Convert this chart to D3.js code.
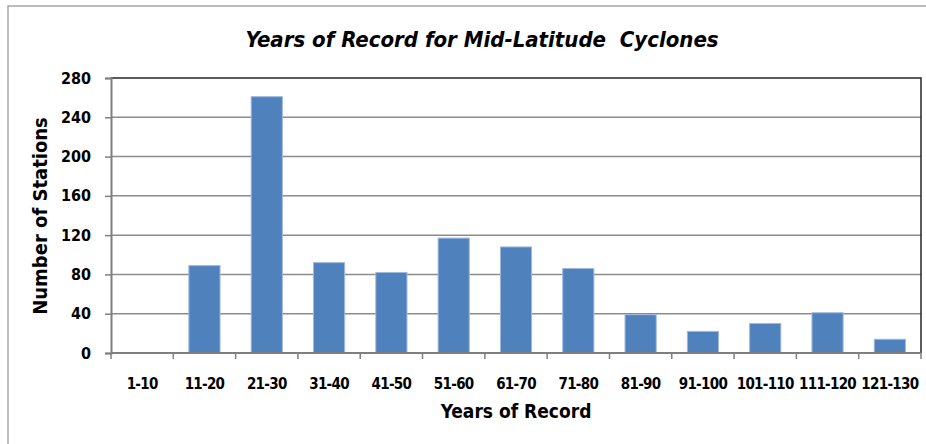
<!DOCTYPE html>
<html>
<head>
<meta charset="utf-8">
<script src="https://cdn.jsdelivr.net/npm/d3@7/dist/d3.min.js"></script>
<style>
  html, body { margin: 0; padding: 0; background: #fff; }
  svg { display: block; }
  text { font-family: "DejaVu Sans Condensed", "Noto Sans", sans-serif; font-weight: bold; fill: #000; }
</style>
</head>
<body>
<svg id="chart" width="926" height="444"></svg>
<script>
// Station counts by length of record
const categories = ["1-10", "11-20", "21-30", "31-40", "41-50", "51-60", "61-70",
                    "71-80", "81-90", "91-100", "101-110", "111-120", "121-130"];
const stations = [0, 89, 261, 92, 82, 117, 108, 86, 39, 22, 30, 41, 14];
const yTicks = [0, 40, 80, 120, 160, 200, 240, 280];

const svg = d3.select("#chart");
const margin = { left: 111, right: 5, top: 78, bottom: 91 };
const W = 926, H = 444;
const x0 = margin.left, x1 = W - margin.right, y0 = H - margin.bottom, y1 = margin.top;

// outer chart frame
svg.append("rect").attr("x", 8).attr("y", 6).attr("width", 940).attr("height", 460)
  .attr("fill", "#fff").attr("stroke", "#a6a6a6").attr("stroke-width", 1.5);

const x = d3.scaleBand().domain(categories).range([x0, x1]).paddingInner(0.5).paddingOuter(0.25);
const y = d3.scaleLinear().domain([0, 280]).range([y0, y1]);

// horizontal gridlines
svg.append("g").selectAll("line").data(yTicks.filter(d => d > 0 && d < 280)).join("line")
  .attr("x1", x0).attr("x2", x1).attr("y1", d => y(d)).attr("y2", d => y(d))
  .attr("stroke", "#8c8c8c").attr("stroke-width", 1.5);

// plot frame: top and right edges
svg.append("path")
  .attr("d", `M${x0},${y1}H${x1}V${y0}`)
  .attr("fill", "none").attr("stroke", "#262626").attr("stroke-width", 1.5);

// bars
svg.append("g").selectAll("rect").data(categories).join("rect")
  .attr("x", d => x(d))
  .attr("width", x.bandwidth())
  .attr("y", (d, i) => y(stations[i]))
  .attr("height", (d, i) => y0 - y(stations[i]))
  .attr("fill", "#4f81bd")
  .attr("stroke", "#9fb8dc").attr("stroke-width", 1);

// y axis
const yAxis = d3.axisLeft(y).tickValues(yTicks).tickSize(6).tickPadding(14);
const gy = svg.append("g").attr("transform", `translate(${x0},0)`).call(yAxis);
gy.select(".domain").attr("stroke", "#7f7f7f").attr("stroke-width", 2);
gy.selectAll(".tick line").attr("stroke", "#7f7f7f").attr("stroke-width", 1.5);
gy.selectAll(".tick text").attr("font-size", 16).attr("font-family", null).attr("fill", "#000");

// x axis with ticks at the band boundaries
const step = x.step();
const boundaries = d3.range(categories.length + 1).map(i => x0 + i * step);
const gx = svg.append("g");
gx.append("line").attr("x1", x0).attr("x2", x1).attr("y1", y0).attr("y2", y0)
  .attr("stroke", "#7f7f7f").attr("stroke-width", 2);
gx.selectAll("line.tk").data(boundaries).join("line").attr("class", "tk")
  .attr("x1", d => d).attr("x2", d => d).attr("y1", y0).attr("y2", y0 + 6)
  .attr("stroke", "#7f7f7f").attr("stroke-width", 1.5);
gx.selectAll("text").data(categories).join("text")
  .attr("x", d => x(d) + x.bandwidth() / 2).attr("y", 389)
  .attr("text-anchor", "middle").attr("font-size", 15).attr("letter-spacing", -0.7).text(d => d);

// titles
svg.append("text").attr("x", 482).attr("y", 47).attr("text-anchor", "middle")
  .style("white-space", "pre")
  .attr("font-size", 22).attr("font-style", "italic").text("Years of Record for Mid-Latitude  Cyclones");
svg.append("text").attr("x", 516).attr("y", 418).attr("text-anchor", "middle")
  .attr("font-size", 19).text("Years of Record");
svg.append("text").attr("transform", "translate(47,216) rotate(-90)").attr("text-anchor", "middle")
  .attr("font-size", 20).text("Number of Stations");
</script>
</body>
</html>
